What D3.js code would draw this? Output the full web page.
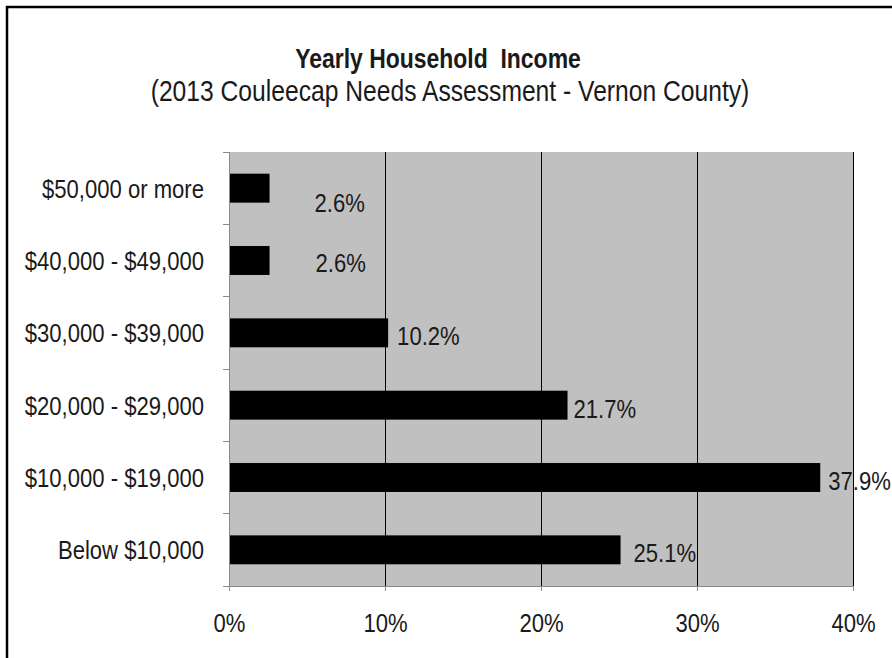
<!DOCTYPE html>
<html>
<head>
<meta charset="utf-8">
<script src="https://cdn.jsdelivr.net/npm/d3@7/dist/d3.min.js"></script>
<style>
  html, body { margin: 0; padding: 0; background: #fff; }
  svg { display: block; }
  text { font-family: "Liberation Sans", Arial, sans-serif; fill: #1a1a1a; }
</style>
</head>
<body>
<svg id="chart" width="892" height="658"></svg>
<script>
// ---- data ----
const categories = ["$50,000 or more", "$40,000 - $49,000", "$30,000 - $39,000", "$20,000 - $29,000", "$10,000 - $19,000", "Below $10,000"];
const values = [2.6, 2.6, 10.2, 21.7, 37.9, 25.1];
const valueLabels = ["2.6%", "2.6%", "10.2%", "21.7%", "37.9%", "25.1%"];
const xTicks = [0, 10, 20, 30, 40];
const xTickLabels = ["0%", "10%", "20%", "30%", "40%"];
const titleText = "Yearly Household  Income";
const subtitleText = "(2013 Couleecap Needs Assessment - Vernon County)";
// label nudges (px) as placed in the original
const labelDx = [45, 46, 9, 6, 8, 13];
const labelDy = [14, 2, 3, 3, 3, 3];

// ---- layout ----
const SX = 0.85; // horizontal condensation of the narrow typeface
const svg = d3.select("#chart");
const plot = { left: 229, right: 853, top: 152, bottom: 586 };

const x = d3.scaleLinear().domain([0, 40]).range([plot.left, plot.right]);
const y = d3.scaleBand().domain(categories).range([plot.top, plot.bottom]).paddingInner(0.6).paddingOuter(0.3);
const yOuter = d3.scaleBand().domain(categories).range([plot.top, plot.bottom]);

function narrowText(sel, px, py) {
  return sel.append("text").attr("transform", `translate(${px},${py}) scale(${SX},1)`);
}

// outer frame
svg.append("rect")
  .attr("x", 7).attr("y", 7).attr("width", 900).attr("height", 700)
  .attr("fill", "none").attr("stroke", "#000").attr("stroke-width", 2.5);

// title
narrowText(svg, 438, 68).attr("text-anchor", "middle").style("white-space", "pre")
  .attr("font-weight", "bold").attr("font-size", 27).text(titleText);
narrowText(svg, 450, 101).attr("text-anchor", "middle")
  .attr("font-size", 29).text(subtitleText);

// plot background
svg.append("rect")
  .attr("x", plot.left).attr("y", plot.top)
  .attr("width", plot.right - plot.left).attr("height", plot.bottom - plot.top)
  .attr("fill", "#c0c0c0");

// gridlines
svg.append("g").selectAll("line").data(xTicks.filter(d => d > 0)).join("line")
  .attr("x1", d => x(d)).attr("x2", d => x(d))
  .attr("y1", plot.top).attr("y2", plot.bottom)
  .attr("stroke", "#000").attr("stroke-width", 1).attr("shape-rendering", "crispEdges");

// bars
svg.append("g").selectAll("rect").data(values).join("rect")
  .attr("x", x(0))
  .attr("y", (d, i) => y(categories[i]))
  .attr("width", d => x(d) - x(0))
  .attr("height", y.bandwidth())
  .attr("fill", "#000");

// x axis
const xAxis = d3.axisBottom(x).tickValues(xTicks).tickFormat((d, i) => xTickLabels[i]).tickSize(5).tickPadding(23);
const gx = svg.append("g").attr("transform", `translate(0,${plot.bottom})`).call(xAxis);
gx.select(".domain").attr("stroke", "#8a8a8a");
gx.selectAll(".tick line").attr("stroke", "#8a8a8a");
gx.selectAll(".tick text").attr("font-size", 26).attr("fill", "#1a1a1a")
  .attr("font-family", '"Liberation Sans", Arial, sans-serif')
  .attr("transform", `scale(${SX},1)`);

// y axis: line + ticks at category boundaries
const gy = svg.append("g");
gy.append("line").attr("x1", plot.left).attr("x2", plot.left).attr("y1", plot.top).attr("y2", plot.bottom)
  .attr("stroke", "#8a8a8a").attr("shape-rendering", "crispEdges");
const boundaries = categories.map(c => yOuter(c)).concat([plot.bottom]);
gy.selectAll("line.tk").data(boundaries).join("line").attr("class", "tk")
  .attr("x1", plot.left - 6).attr("x2", plot.left).attr("y1", d => d).attr("y2", d => d)
  .attr("stroke", "#8a8a8a").attr("shape-rendering", "crispEdges");
categories.forEach(c => {
  narrowText(gy, 204, yOuter(c) + yOuter.bandwidth() / 2)
    .attr("dy", "0.36em").attr("text-anchor", "end").attr("font-size", 26).text(c);
});

// value labels
const gl = svg.append("g");
values.forEach((v, i) => {
  narrowText(gl, x(v) + labelDx[i], y(categories[i]) + y.bandwidth() / 2 + labelDy[i])
    .attr("dy", "0.36em").attr("font-size", 26).text(valueLabels[i]);
});
</script>
</body>
</html>
